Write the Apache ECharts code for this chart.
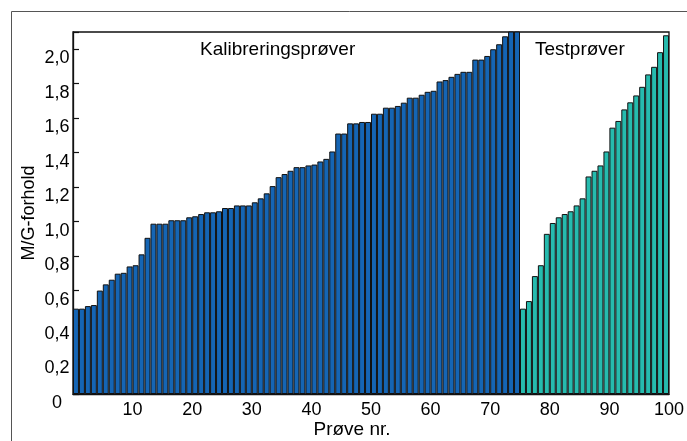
<!DOCTYPE html>
<html>
<head>
<meta charset="utf-8">
<script src="https://cdn.jsdelivr.net/npm/echarts@6/dist/echarts.min.js"></script>
<style>
html,body{margin:0;padding:0;background:#fff;}
#chart{width:687px;height:441px;}
</style>
</head>
<body>
<div id="chart"></div>
<script>
// Sample numbers 1..100
const sampleNumbers = Array.from({length: 100}, (_, i) => String(i + 1));
// Calibration samples (1..75)
const calibrationValues = [
  0.495, 0.495, 0.51, 0.516, 0.60, 0.636, 0.663, 0.698, 0.703, 0.74,
  0.747, 0.81, 0.906, 0.988, 0.988, 0.988, 1.008, 1.008, 1.008, 1.025,
  1.031, 1.044, 1.054, 1.054, 1.06, 1.079, 1.079, 1.094, 1.094, 1.094,
  1.112, 1.135, 1.164, 1.206, 1.258, 1.276, 1.295, 1.316, 1.316, 1.326,
  1.331, 1.349, 1.364, 1.407, 1.511, 1.511, 1.570, 1.570, 1.578, 1.578,
  1.626, 1.626, 1.661, 1.661, 1.671, 1.690, 1.719, 1.719, 1.736, 1.753,
  1.759, 1.813, 1.821, 1.840, 1.857, 1.869, 1.869, 1.940, 1.940, 1.961,
  2.0, 2.029, 2.075, 2.15, 2.2
];
// Test samples (76..100)
const testValues = [
  0.495, 0.539, 0.684, 0.747, 0.929, 0.992, 1.025, 1.044, 1.06, 1.094,
  1.135, 1.262, 1.295, 1.326, 1.407, 1.545, 1.584, 1.651, 1.692, 1.732,
  1.782, 1.854, 1.898, 1.983, 2.081
];
const xTickValues = [10, 20, 30, 40, 50, 60, 70, 80, 90, 100];
const yTickValues = [0, 0.2, 0.4, 0.6, 0.8, 1.0, 1.2, 1.4, 1.6, 1.8, 2.0];
const calibrationLabel = 'Kalibreringsprøver';
const testLabel = 'Testprøver';

const calSeriesData = sampleNumbers.map((_, i) => i < calibrationValues.length ? calibrationValues[i] : '-');
const testSeriesData = sampleNumbers.map((_, i) => i >= calibrationValues.length ? testValues[i - calibrationValues.length] : '-');

const FONT = 'Liberation Sans, Arial, sans-serif';
const chart = echarts.init(document.getElementById('chart'), null, {renderer: 'canvas'});
chart.setOption({
  animation: false,
  backgroundColor: '#fff',
  grid: {left: 73, right: 18, top: 32, bottom: 47, outerBoundsMode: 'none', containLabel: false,
         show: true, borderColor: '#111', borderWidth: 1.3, backgroundColor: 'transparent'},
  xAxis: [
    {
      type: 'category', data: sampleNumbers, boundaryGap: true,
      axisLine: {show: false}, axisTick: {show: false}, axisLabel: {show: false}, splitLine: {show: false}
    },
    {
      type: 'value', min: 0, max: 100, interval: 10, position: 'bottom',
      axisLine: {show: true, onZero: false, lineStyle: {color: '#111', width: 1.3}},
      axisTick: {show: false}, splitLine: {show: false},
      axisLabel: {
        margin: 7, fontFamily: FONT, fontSize: 18, color: '#000',
        formatter: v => xTickValues.indexOf(v) >= 0 ? String(v) : ''
      },
      name: 'Prøve nr.', nameLocation: 'middle', nameGap: 26, nameMoveOverlap: false,
      nameTextStyle: {fontFamily: FONT, fontSize: 19, color: '#000', padding: [0, 38, 0, 0]}
    }
  ],
  yAxis: {
    type: 'value', min: 0, max: 2.1, interval: 0.2,
    axisLine: {show: true, lineStyle: {color: '#111', width: 1.3}},
    axisTick: {show: true, inside: true, length: 6, lineStyle: {color: '#111', width: 1.2}},
    splitLine: {show: false},
    axisLabel: {
      margin: 16, align: 'center', verticalAlign: 'top', fontFamily: FONT, fontSize: 18, color: '#000',
      formatter: v => {
        const t = yTickValues.find(y => Math.abs(y - v) < 1e-6);
        if (t === undefined) return '';
        return t === 0 ? '0' : t.toFixed(1).replace('.', ',');
      }
    },
    name: 'M/G-forhold', nameLocation: 'middle', nameGap: 35, nameRotate: 90, nameMoveOverlap: false,
    nameTextStyle: {fontFamily: FONT, fontSize: 18, color: '#000'}
  },
  series: [
    {
      name: calibrationLabel, type: 'bar', xAxisIndex: 0, data: calSeriesData,
      barWidth: '100%', barGap: '-100%', barCategoryGap: '0%', clip: true,
      itemStyle: {color: '#1565B4', borderColor: '#111', borderWidth: 1}
    },
    {
      name: testLabel, type: 'bar', xAxisIndex: 0, data: testSeriesData,
      barWidth: '100%', barGap: '-100%', barCategoryGap: '0%', clip: true,
      itemStyle: {color: '#26BBAE', borderColor: '#111', borderWidth: 1}
    }
  ],
  graphic: [
    {type: 'line', shape: {x1: 11.5, y1: 11.5, x2: 687, y2: 11.5}, style: {stroke: '#555', lineWidth: 1}, silent: true},
    {type: 'line', shape: {x1: 11.5, y1: 11.5, x2: 11.5, y2: 441}, style: {stroke: '#555', lineWidth: 1}, silent: true},
    {type: 'text', left: 200, top: 40, style: {text: calibrationLabel, font: '19px Liberation Sans, Arial, sans-serif', fill: '#000'}, z: 100},
    {type: 'text', left: 535, top: 40, style: {text: testLabel, font: '19px Liberation Sans, Arial, sans-serif', fill: '#000'}, z: 100}
  ]
});
</script>
</body>
</html>
